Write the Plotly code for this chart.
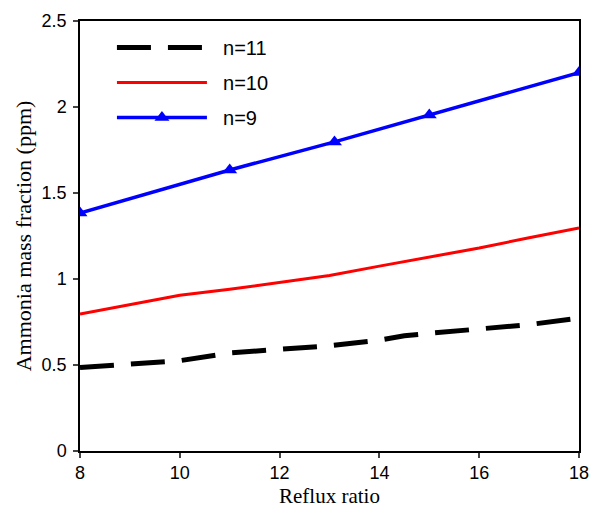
import plotly.graph_objects as go

# Data
x_n11 = [8, 9, 10, 11, 12, 13, 14, 14.5, 15, 16, 17, 18]
y_n11 = [0.485, 0.505, 0.525, 0.57, 0.588, 0.612, 0.645, 0.67, 0.684, 0.708, 0.735, 0.772]

x_n10 = [8, 9, 10, 11, 12, 13, 14, 15, 16, 17, 18]
y_n10 = [0.797, 0.85, 0.905, 0.94, 0.98, 1.02, 1.075, 1.128, 1.18, 1.24, 1.296]

x_n9 = [8, 11, 13.1, 15, 18]
y_n9 = [1.384, 1.634, 1.797, 1.953, 2.20]

series_names = ["n=11", "n=10", "n=9"]

x_ticks = [8, 10, 12, 14, 16, 18]
y_ticks = [0, 0.5, 1, 1.5, 2, 2.5]
y_tick_labels = ["0", "0.5", "1", "1.5", "2", "2.5"]

pad = "\u00a0\u00a0"

fig = go.Figure()
fig.add_trace(go.Scatter(x=x_n11, y=y_n11, mode="lines", name=pad + series_names[0], legendgroup="a",
                         line=dict(color="black", width=5, dash="34px,17px")))
fig.add_trace(go.Scatter(x=x_n10, y=y_n10, mode="lines", name=pad + series_names[1], legendgroup="b",
                         line=dict(color="#ff0000", width=3)))
fig.add_trace(go.Scatter(x=x_n9, y=y_n9, mode="lines+markers", name=pad + series_names[2], legendgroup="c",
                         line=dict(color="#0000ff", width=3.5),
                         marker=dict(symbol="triangle-up", size=13, color="#0000ff")))

fig.update_layout(
    width=590, height=509,
    margin=dict(l=80, r=11, t=21, b=58),
    paper_bgcolor="white", plot_bgcolor="white",
    showlegend=True,
    legend=dict(x=0.064, y=0.984, xanchor="left", yanchor="top",
                font=dict(family="Liberation Sans, Arial", size=20, color="black"),
                itemwidth=90, tracegroupgap=6, bgcolor="rgba(0,0,0,0)"),
    font=dict(family="Liberation Sans, Arial", size=18, color="black"),
)
fig.update_xaxes(range=[8, 18], tickvals=x_ticks, ticks="outside", ticklen=5, tickwidth=1.5,
                 showline=True, linecolor="black", linewidth=1.5, mirror=True, showgrid=False,
                 zeroline=False, automargin=False,
                 tickfont=dict(family="Liberation Sans, Arial", size=18),
                 title=dict(text="Reflux ratio", standoff=6,
                            font=dict(family="Liberation Serif, Times New Roman", size=21)))
fig.update_yaxes(range=[0, 2.5], tickvals=y_ticks, ticktext=y_tick_labels, ticks="outside",
                 ticklen=5, tickwidth=1.5, ticklabelstandoff=3,
                 showline=True, linecolor="black", linewidth=1.5, mirror=True, showgrid=False,
                 zeroline=False, automargin=False,
                 tickfont=dict(family="Liberation Sans, Arial", size=18),
                 title=dict(text="Ammonia mass fraction (ppm)", standoff=4,
                            font=dict(family="Liberation Serif, Times New Roman", size=22)))

fig.write_html("out.html", config={"displayModeBar": False},
               post_script="document.body.style.margin='0px';")
